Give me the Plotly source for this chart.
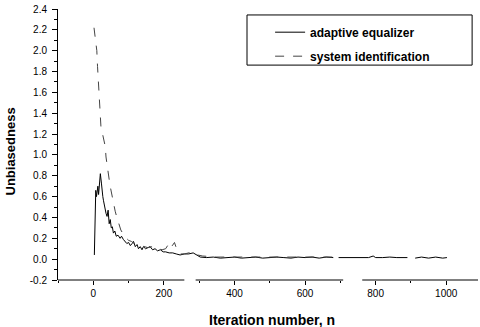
import plotly.graph_objects as go

# ---- data ----
n_equalizer = [3, 5, 7, 9, 11, 13, 15, 17, 20, 23, 25, 27, 29, 31, 34, 36, 39, 42, 45, 48,
               51, 54, 57, 61, 65, 70, 76, 80, 85, 90, 95, 100, 105, 110, 114, 119, 124, 128,
               133, 138, 142, 148, 155, 161, 168, 175, 182, 190, 198, 205, 215, 225, 235, 246,
               258, 270, 283, 292, 303, 320, 340, 360, 380, 400, 420, 440, 460, 480, 500, 520,
               540, 560, 580, 600, 620, 640, 660, 680, 687, 695, 720, 740, 760, 780, 793, 800,
               820, 840, 860, 880, 890, 900, 912, 930, 950, 970, 990, 1002]
v_equalizer = [0.04, 0.45, 0.66, 0.60, 0.68, 0.70, 0.62, 0.74, 0.82, 0.73, 0.64, 0.60, 0.56,
               0.52, 0.50, 0.44, 0.41, 0.47, 0.34, 0.38, 0.30, 0.31, 0.25, 0.27, 0.22, 0.23,
               0.20, 0.22, 0.19, 0.17, 0.15, 0.16, 0.13, 0.15, 0.17, 0.12, 0.14, 0.10, 0.12,
               0.09, 0.12, 0.10, 0.11, 0.12, 0.09, 0.10, 0.08, 0.09, 0.07, 0.07, 0.06, 0.06,
               0.05, 0.04, 0.05, 0.05, 0.06, 0.04, 0.02, 0.015, 0.02, 0.01, 0.015, 0.02, 0.01,
               0.015, 0.02, 0.01, 0.015, 0.02, 0.015, 0.01, 0.02, 0.015, 0.02, 0.01, 0.02, 0.015,
               None, 0.015, 0.015, 0.02, 0.015, 0.015, 0.03, 0.015, 0.015, 0.02, 0.015, 0.015,
               0.015, None, 0.01, 0.02, 0.01, 0.02, 0.01, 0.015]

n_sysid = [2, 4, 6, 8, 10, 12, 14, 16, 18, 20, 22, 25, 28, 31, 34, 36, 38, 40, 43, 46, 49, 52,
           55, 58, 62, 66, 70, 74, 78, 83, 88, 94, 100, 108, 116, 125, 135, 145, 155, 165, 175,
           185, 195, 205, 212, 218, 224, 230, 238, 246, 258, 270, 283, 295, 310, 350, 400, 450,
           500, 550, 600, 650, 680]
v_sysid = [2.22, 2.15, 2.10, 2.06, 2.00, 1.85, 1.72, 1.60, 1.45, 1.33, 1.25, 1.22, 1.18, 1.14,
           1.08, 0.98, 0.92, 0.86, 0.82, 0.74, 0.68, 0.62, 0.58, 0.52, 0.46, 0.41, 0.36, 0.32,
           0.28, 0.25, 0.22, 0.20, 0.18, 0.17, 0.15, 0.14, 0.13, 0.12, 0.11, 0.12, 0.10, 0.10,
           0.09, 0.10, 0.14, 0.17, 0.13, 0.16, 0.08, 0.05, 0.05, 0.06, 0.07, 0.04, 0.03, 0.02,
           0.02, 0.02, 0.02, 0.02, 0.02, 0.02, 0.02]

y_ticks = [-0.2, 0.0, 0.2, 0.4, 0.6, 0.8, 1.0, 1.2, 1.4, 1.6, 1.8, 2.0, 2.2, 2.4]
x_ticks = [0, 200, 400, 600, 800, 1000]
axis_segments = [(-100, 258), (290, 708), (762, 1090)]

FONT = "Liberation Sans, Arial, sans-serif"

fig = go.Figure()
fig.add_trace(go.Scatter(x=n_equalizer, y=v_equalizer, mode="lines", name="adaptive equalizer",
                         line=dict(color="black", width=1), legendgroup="a",
                         connectgaps=False))
fig.add_trace(go.Scatter(x=n_sysid, y=v_sysid, mode="lines", name="system identification",
                         line=dict(color="#444444", width=1, dash="dash"), legendgroup="b"))

shapes = []
for a, b in axis_segments:
    shapes.append(dict(type="line", xref="x", yref="paper", x0=a, x1=b, y0=0, y1=0,
                       line=dict(color="black", width=1)))
# legend frame
shapes.append(dict(type="rect", xref="paper", yref="paper", x0=0.45, x1=0.986, y0=0.793,
                   y1=0.978, line=dict(color="black", width=1)))

fig.update_layout(
    width=480, height=327,
    margin=dict(l=58, r=2, t=9, b=47),
    paper_bgcolor="white", plot_bgcolor="white",
    font=dict(family=FONT, color="black", size=10),
    showlegend=True,
    legend=dict(x=0.505, y=0.968, xanchor="left", yanchor="top",
                bgcolor="rgba(0,0,0,0)", borderwidth=0,
                font=dict(size=12, family=FONT, color="black", weight="bold"),
                itemwidth=30, tracegroupgap=5, traceorder="grouped"),
    shapes=shapes,
    annotations=[
        dict(text="<b>Unbiasedness</b>", xref="paper", yref="paper", x=-0.112, y=0.474,
             textangle=-90, showarrow=False, font=dict(size=13, family=FONT, color="black"),
             xanchor="center", yanchor="middle"),
        dict(text="<b>Iteration number, n</b>", xref="paper", yref="paper", x=0.51, y=-0.148,
             showarrow=False, font=dict(size=14, family=FONT, color="black"),
             xanchor="center", yanchor="middle"),
    ],
)

fig.update_xaxes(range=[-100, 1090], tickvals=x_ticks, ticktext=[str(v) for v in x_ticks],
                 showline=False, showgrid=False, zeroline=False,
                 ticks="outside", ticklen=4, tickcolor="black", tickwidth=1,
                 minor=dict(dtick=100, tick0=0, ticks="outside", ticklen=2, tickcolor="black"),
                 tickfont=dict(size=10, family=FONT, color="black"))
fig.update_yaxes(range=[-0.2, 2.4], tickvals=y_ticks, ticktext=[f"{v:.1f}" for v in y_ticks],
                 showline=True, linecolor="black", linewidth=1, showgrid=False, zeroline=False,
                 ticks="outside", ticklen=5, tickcolor="black", tickwidth=1,
                 minor=dict(dtick=0.1, tick0=0, ticks="outside", ticklen=3, tickcolor="black"),
                 tickfont=dict(size=10, family=FONT, color="black"), ticklabelstandoff=3)

# remove the default 8px page margin so the figure sits at the window's corner
fig.write_html("out.html", config={"displayModeBar": False},
               post_script="document.body.style.margin='0';document.body.style.padding='0';")
